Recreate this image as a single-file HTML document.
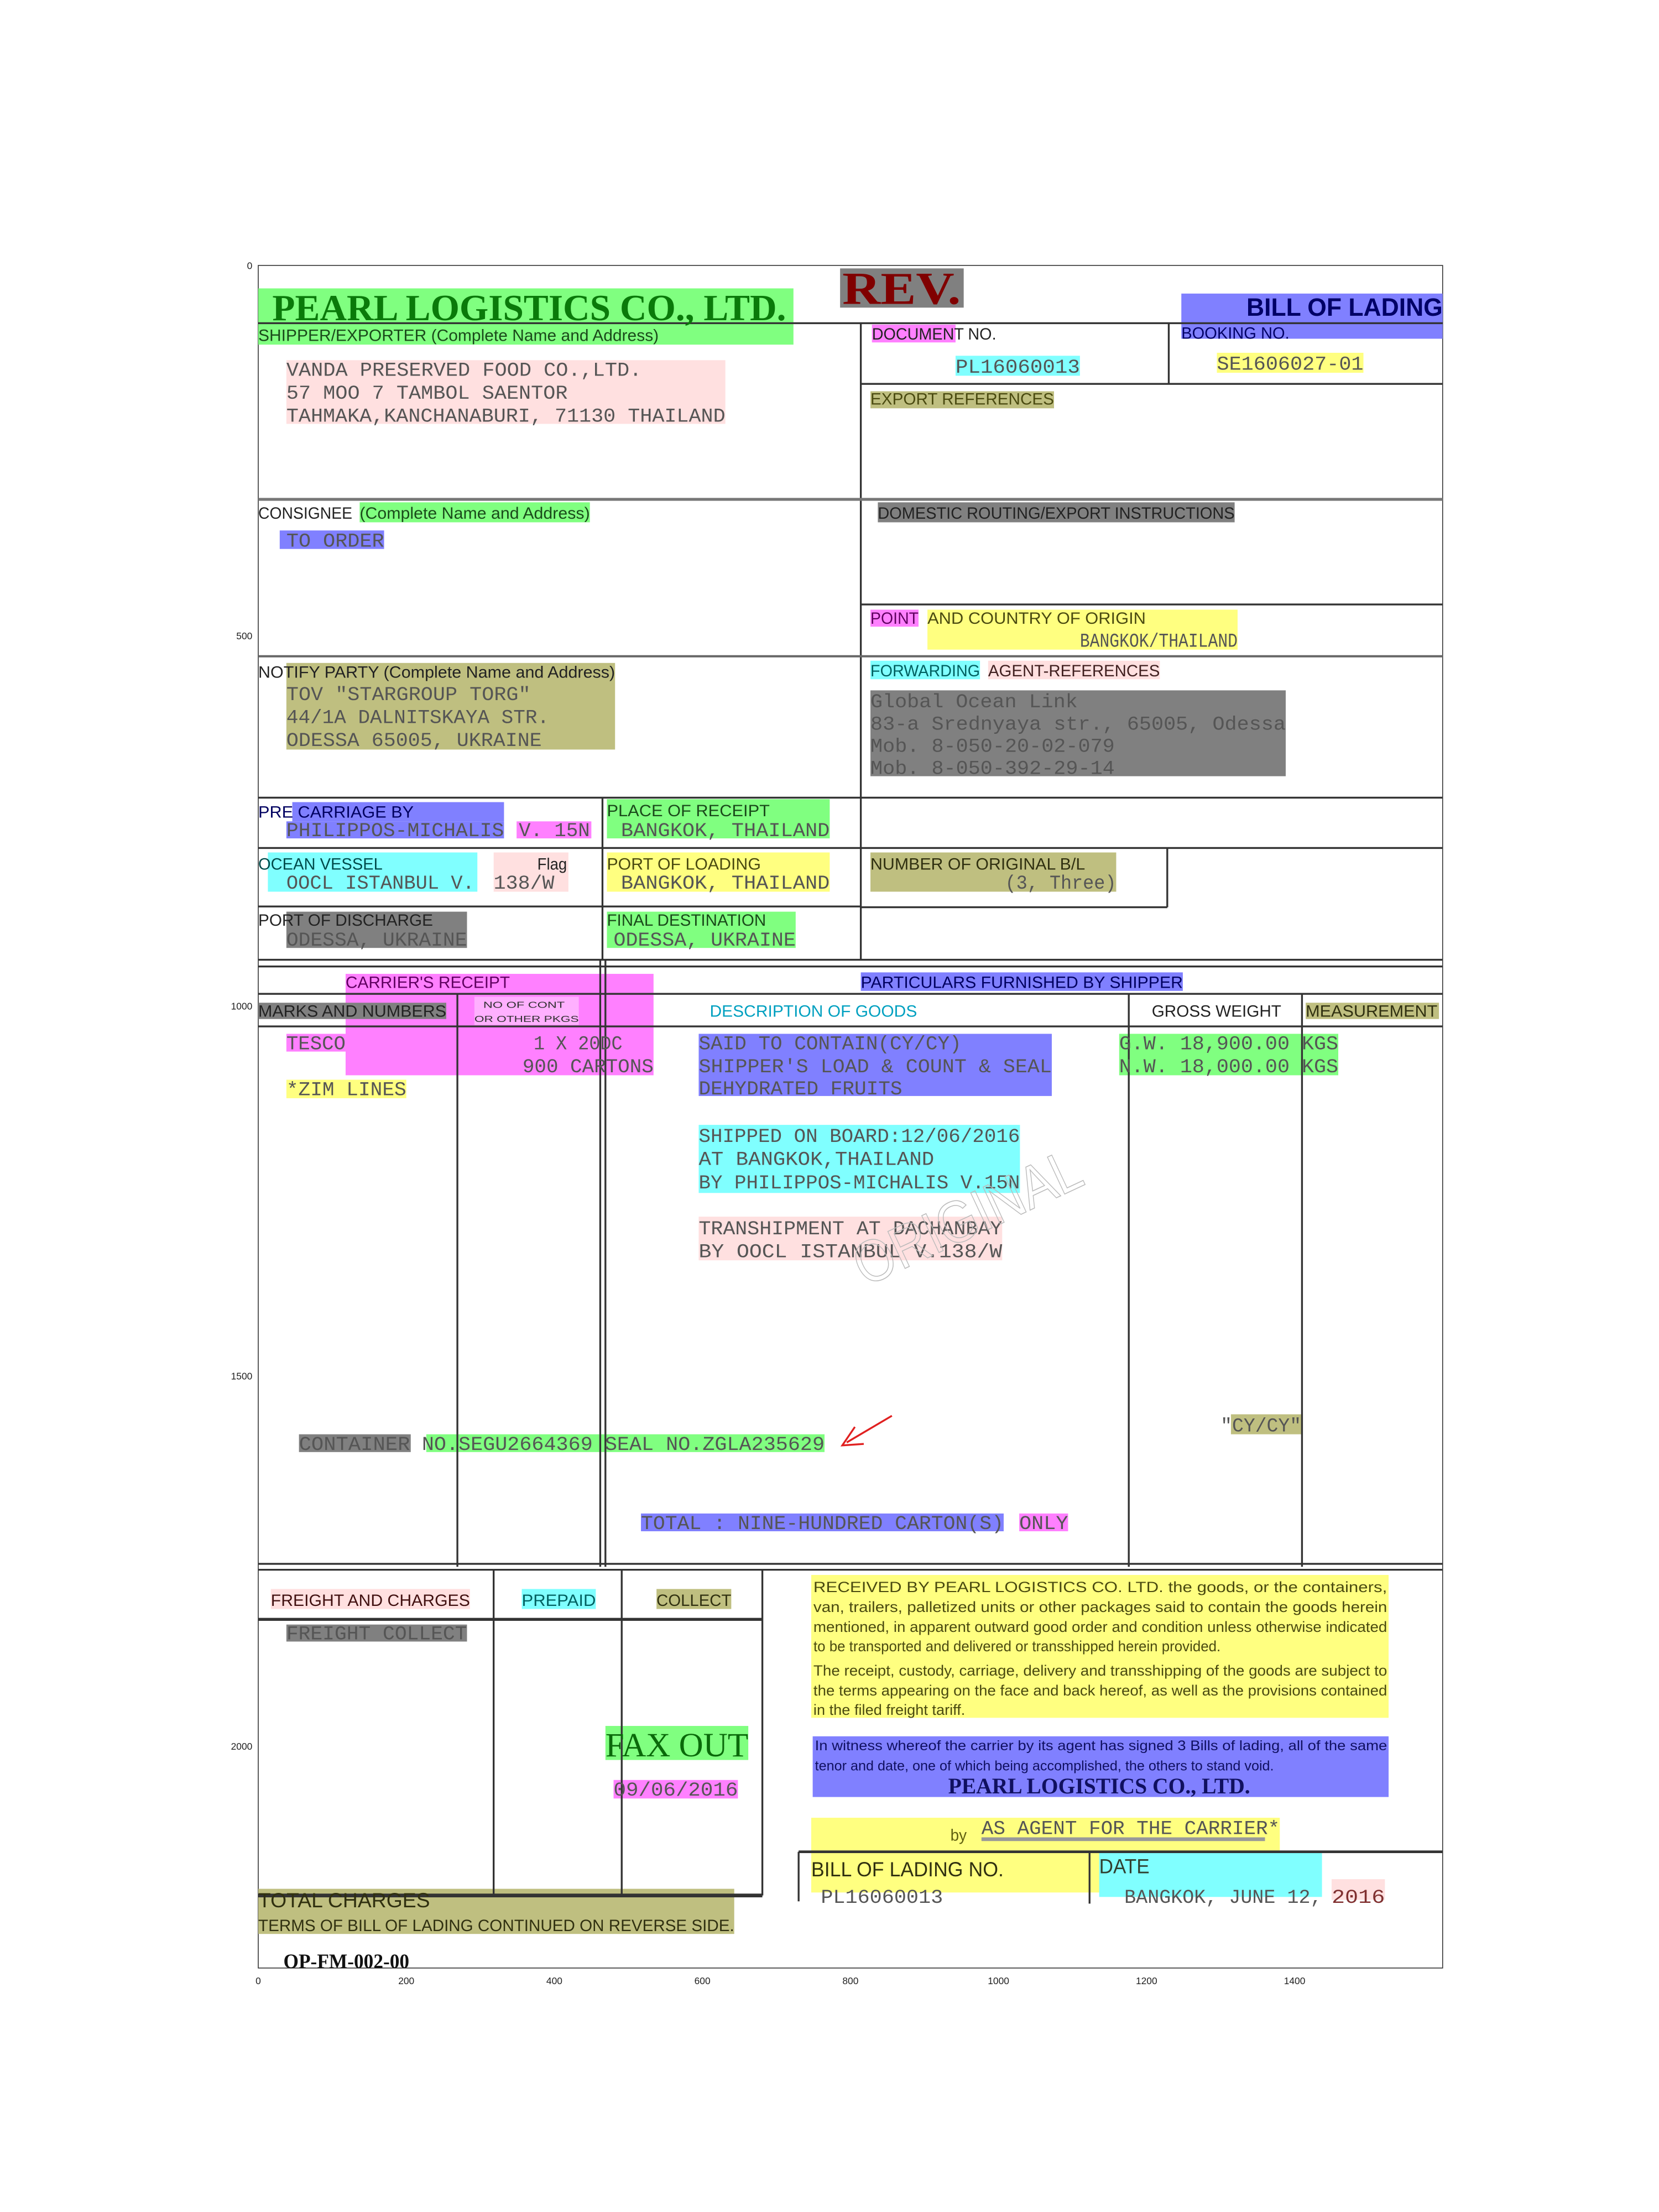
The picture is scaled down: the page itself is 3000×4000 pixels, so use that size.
<!DOCTYPE html>
<html><head><meta charset="utf-8"><style>
html,body{margin:0;padding:0;background:#fff;}
svg{display:block;}
.s{font-family:"Liberation Sans",sans-serif;}
.m{font-family:"Liberation Mono",monospace;}
.f{font-family:"Liberation Serif",serif;font-weight:bold;}
</style></head><body>
<svg width="3000" height="4000" viewBox="0 0 3000 4000" xmlns="http://www.w3.org/2000/svg">
<rect width="3000" height="4000" fill="#fff"/>
<g transform="translate(467,480) scale(1.3386)">
<rect x="0" y="0" width="1600" height="2300" fill="none" stroke="#333" stroke-width="1.2"/>
<g class="s" font-size="13" fill="#222" text-anchor="end">
<text x="-8" y="5">0</text><text x="-8" y="505">500</text><text x="-8" y="1005">1000</text><text x="-8" y="1505">1500</text><text x="-8" y="2005">2000</text>
</g>
<g class="s" font-size="13" fill="#222" text-anchor="middle">
<text x="0" y="2322">0</text><text x="200" y="2322">200</text><text x="400" y="2322">400</text><text x="600" y="2322">600</text><text x="800" y="2322">800</text><text x="1000" y="2322">1000</text><text x="1200" y="2322">1200</text><text x="1400" y="2322">1400</text>
</g>

<g>
<rect x="0" y="31" width="723" height="76" fill="#80ff80"/>
<rect x="786" y="4" width="167" height="53" fill="#808080"/>
<rect x="1247" y="38" width="353" height="61" fill="#8080ff"/>
<rect x="829" y="80" width="113" height="24" fill="#ff80ff"/>
<rect x="942" y="122" width="168" height="27" fill="#80ffff"/>
<rect x="1295" y="118" width="198" height="27" fill="#ffff80"/>
<rect x="827" y="170" width="248" height="23" fill="#bfbf80"/>
<rect x="38" y="128" width="593" height="86" fill="#ffe0e0"/>
<rect x="137" y="320" width="311" height="27" fill="#80ff80"/>
<rect x="29" y="358" width="141" height="25" fill="#8080ff"/>
<rect x="837" y="320" width="482" height="27" fill="#808080"/>
<rect x="827" y="465" width="65" height="23" fill="#ff80ff"/>
<rect x="904" y="465" width="419" height="54" fill="#ffff80"/>
<rect x="38" y="537" width="444" height="117" fill="#bfbf80"/>
<rect x="827" y="534" width="148" height="25" fill="#80ffff"/>
<rect x="986" y="534" width="232" height="25" fill="#ffe0e0"/>
<rect x="827" y="574" width="561" height="116" fill="#808080"/>
<rect x="46" y="725" width="286" height="26" fill="#8080ff"/>
<rect x="38" y="751" width="294" height="23" fill="#8080ff"/>
<rect x="349" y="751" width="101" height="23" fill="#ff80ff"/>
<rect x="471" y="721" width="301" height="53" fill="#80ff80"/>
<rect x="13" y="793" width="283" height="53" fill="#80ffff"/>
<rect x="318" y="793" width="101" height="53" fill="#ffe0e0"/>
<rect x="471" y="793" width="301" height="53" fill="#ffff80"/>
<rect x="827" y="793" width="332" height="53" fill="#bfbf80"/>
<rect x="38" y="873" width="244" height="49" fill="#808080"/>
<rect x="471" y="873" width="255" height="49" fill="#80ff80"/>
<rect x="814" y="955" width="435" height="25" fill="#8080ff"/>
<rect x="118" y="957" width="416" height="137" fill="#ff80ff"/>
<rect x="0" y="996" width="254" height="22" fill="#808080"/>
<rect x="292" y="988" width="141" height="38" fill="#ffb0ff"/>
<rect x="1415" y="996" width="180" height="22" fill="#bfbf80"/>
<rect x="38" y="1038" width="80" height="24" fill="#ff80ff"/>
<rect x="38" y="1100" width="162" height="25" fill="#ffff80"/>
<rect x="595" y="1038" width="477" height="84" fill="#8080ff"/>
<rect x="1163" y="1038" width="296" height="56" fill="#80ff80"/>
<rect x="595" y="1161" width="434" height="92" fill="#80ffff"/>
<rect x="595" y="1285" width="410" height="59" fill="#ffe0e0"/>
<rect x="55" y="1579" width="151" height="24" fill="#808080"/>
<rect x="227" y="1579" width="538" height="24" fill="#80ff80"/>
<rect x="1314" y="1552" width="95" height="27" fill="#bfbf80"/>
<rect x="517" y="1686" width="490" height="24" fill="#8080ff"/>
<rect x="1028" y="1686" width="66" height="24" fill="#ff80ff"/>
<rect x="17" y="1788" width="269" height="27" fill="#ffe0e0"/>
<rect x="356" y="1788" width="100" height="27" fill="#80ffff"/>
<rect x="538" y="1788" width="101" height="27" fill="#bfbf80"/>
<rect x="38" y="1836" width="244" height="23" fill="#808080"/>
<rect x="469" y="1973" width="193" height="46" fill="#80ff80"/>
<rect x="480" y="2046" width="168" height="25" fill="#ff80ff"/>
<rect x="0" y="2193" width="643" height="61" fill="#bfbf80"/>
<rect x="747" y="1769" width="780" height="193" fill="#ffff80"/>
<rect x="749" y="1987" width="778" height="82" fill="#8080ff"/>
<rect x="747" y="2097" width="633" height="101" fill="#ffff80"/>
<rect x="1136" y="2143" width="301" height="61" fill="#80ffff"/>
<rect x="1450" y="2180" width="72" height="28" fill="#ffe0e0"/>
</g>

<g stroke="#333" stroke-width="2.5" fill="none">
<line x1="0" y1="78" x2="1600" y2="78"/>
<line x1="814" y1="78" x2="814" y2="938"/>
<line x1="1230" y1="78" x2="1230" y2="160"/>
<line x1="814" y1="160" x2="1600" y2="160"/>
<line x1="0" y1="316" x2="1600" y2="316" stroke="#777" stroke-width="4"/>
<line x1="814" y1="458" x2="1600" y2="458"/>
<line x1="0" y1="528" x2="1600" y2="528" stroke="#666" stroke-width="3"/>
<line x1="0" y1="719" x2="1600" y2="719"/>
<line x1="465" y1="719" x2="465" y2="938"/>
<line x1="0" y1="787" x2="1600" y2="787"/>
<line x1="1228" y1="787" x2="1228" y2="867"/>
<line x1="814" y1="867" x2="1228" y2="867"/>
<line x1="0" y1="866" x2="814" y2="866"/>
<line x1="0" y1="938" x2="1600" y2="938"/>
<line x1="0" y1="947" x2="1600" y2="947"/>
<line x1="0" y1="984" x2="1600" y2="984"/>
<line x1="0" y1="1028" x2="1600" y2="1028"/>
<line x1="269" y1="984" x2="269" y2="1758"/>
<line x1="462" y1="938" x2="462" y2="1758"/>
<line x1="469" y1="938" x2="469" y2="1758"/>
<line x1="1176" y1="984" x2="1176" y2="1758"/>
<line x1="1410" y1="984" x2="1410" y2="1758"/>
<line x1="0" y1="1754" x2="1600" y2="1754"/>
<line x1="0" y1="1762" x2="1600" y2="1762"/>
<line x1="318" y1="1762" x2="318" y2="2202"/>
<line x1="491" y1="1762" x2="491" y2="2202"/>
<line x1="681" y1="1762" x2="681" y2="2202"/>
<line x1="0" y1="1829" x2="681" y2="1829" stroke-width="4"/>
<line x1="0" y1="2202" x2="681" y2="2202" stroke-width="5"/>
<line x1="730" y1="2143" x2="1600" y2="2143" stroke-width="3.5"/>
<line x1="730" y1="2143" x2="730" y2="2210"/>
<line x1="1123" y1="2143" x2="1123" y2="2213"/>
<line x1="977" y1="2126" x2="1360" y2="2126" stroke="#999" stroke-width="5"/>
<line x1="856" y1="1554" x2="795" y2="1590" stroke="#e02020" stroke-width="2.5"/>
<polyline points="806,1569 789,1594 818,1592" stroke="#e02020" stroke-width="2.5"/>
</g>

<text class="f" x="19" y="74" font-size="50" fill="#0a7a0a" textLength="694" lengthAdjust="spacingAndGlyphs">PEARL LOGISTICS CO., LTD.</text>
<text class="s" x="0" y="102" font-size="22" fill="#1a4a1a" textLength="541" lengthAdjust="spacingAndGlyphs">SHIPPER/EXPORTER (Complete Name and Address)</text>
<text class="f" x="789" y="52" font-size="62" fill="#800000" textLength="160" lengthAdjust="spacingAndGlyphs">REV.</text>
<text class="s" x="1335" y="68" font-size="34" font-weight="bold" fill="#000066" textLength="265" lengthAdjust="spacingAndGlyphs">BILL OF LADING</text>
<text class="s" x="1247" y="99" font-size="22" fill="#000066" textLength="146" lengthAdjust="spacingAndGlyphs">BOOKING NO.</text>
<text class="s" x="829" y="100" font-size="22" fill="#222" textLength="168" lengthAdjust="spacingAndGlyphs">DOCUMENT NO.</text>
<g class="m" font-size="26" fill="#555">
<text x="942" y="145" textLength="168" lengthAdjust="spacingAndGlyphs">PL16060013</text>
<text x="1295" y="141" textLength="198" lengthAdjust="spacingAndGlyphs">SE1606027-01</text>
<text x="38" y="149" textLength="480" lengthAdjust="spacingAndGlyphs">VANDA PRESERVED FOOD CO.,LTD.</text>
<text x="38" y="180" textLength="380" lengthAdjust="spacingAndGlyphs">57 MOO 7 TAMBOL SAENTOR</text>
<text x="38" y="211" textLength="593" lengthAdjust="spacingAndGlyphs">TAHMAKA,KANCHANABURI, 71130 THAILAND</text>
<text x="38" y="380" textLength="132" lengthAdjust="spacingAndGlyphs">TO ORDER</text>
<text x="1110" y="515" textLength="213" lengthAdjust="spacingAndGlyphs">BANGKOK/THAILAND</text>
<text x="38" y="587" textLength="330" lengthAdjust="spacingAndGlyphs">TOV "STARGROUP TORG"</text>
<text x="38" y="618" textLength="355" lengthAdjust="spacingAndGlyphs">44/1A DALNITSKAYA STR.</text>
<text x="38" y="649" textLength="345" lengthAdjust="spacingAndGlyphs">ODESSA 65005, UKRAINE</text>
<text x="827" y="597" textLength="280" lengthAdjust="spacingAndGlyphs">Global Ocean Link</text>
<text x="827" y="627" textLength="561" lengthAdjust="spacingAndGlyphs">83-a Srednyaya str., 65005, Odessa</text>
<text x="827" y="657" textLength="330" lengthAdjust="spacingAndGlyphs">Mob. 8-050-20-02-079</text>
<text x="827" y="687" textLength="330" lengthAdjust="spacingAndGlyphs">Mob. 8-050-392-29-14</text>
<text x="38" y="771" textLength="294" lengthAdjust="spacingAndGlyphs">PHILIPPOS-MICHALIS</text>
<text x="352" y="771" textLength="96" lengthAdjust="spacingAndGlyphs">V. 15N</text>
<text x="490" y="771" textLength="282" lengthAdjust="spacingAndGlyphs">BANGKOK, THAILAND</text>
<text x="38" y="842" textLength="254" lengthAdjust="spacingAndGlyphs">OOCL ISTANBUL V.</text>
<text x="318" y="842" textLength="82" lengthAdjust="spacingAndGlyphs">138/W</text>
<text x="490" y="842" textLength="282" lengthAdjust="spacingAndGlyphs">BANGKOK, THAILAND</text>
<text x="1009" y="842" textLength="150" lengthAdjust="spacingAndGlyphs">(3, Three)</text>
<text x="38" y="919" textLength="244" lengthAdjust="spacingAndGlyphs">ODESSA, UKRAINE</text>
<text x="480" y="919" textLength="246" lengthAdjust="spacingAndGlyphs">ODESSA, UKRAINE</text>
<text x="38" y="1059" textLength="80" lengthAdjust="spacingAndGlyphs">TESCO</text>
<text x="372" y="1059" textLength="120" lengthAdjust="spacingAndGlyphs">1 X 20DC</text>
<text x="357" y="1090" textLength="177" lengthAdjust="spacingAndGlyphs">900 CARTONS</text>
<text x="38" y="1121" textLength="162" lengthAdjust="spacingAndGlyphs">*ZIM LINES</text>
<text x="595" y="1059" textLength="355" lengthAdjust="spacingAndGlyphs">SAID TO CONTAIN(CY/CY)</text>
<text x="595" y="1090" textLength="477" lengthAdjust="spacingAndGlyphs">SHIPPER'S LOAD &amp; COUNT &amp; SEAL</text>
<text x="595" y="1120" textLength="275" lengthAdjust="spacingAndGlyphs">DEHYDRATED FRUITS</text>
<text x="1163" y="1059" textLength="296" lengthAdjust="spacingAndGlyphs">G.W. 18,900.00 KGS</text>
<text x="1163" y="1090" textLength="296" lengthAdjust="spacingAndGlyphs">N.W. 18,000.00 KGS</text>
<text x="595" y="1184" textLength="434" lengthAdjust="spacingAndGlyphs">SHIPPED ON BOARD:12/06/2016</text>
<text x="595" y="1215" textLength="318" lengthAdjust="spacingAndGlyphs">AT BANGKOK,THAILAND</text>
<text x="595" y="1247" textLength="434" lengthAdjust="spacingAndGlyphs">BY PHILIPPOS-MICHALIS V.15N</text>
<text x="595" y="1309" textLength="410" lengthAdjust="spacingAndGlyphs">TRANSHIPMENT AT DACHANBAY</text>
<text x="595" y="1340" textLength="410" lengthAdjust="spacingAndGlyphs">BY OOCL ISTANBUL V.138/W</text>
<text x="55" y="1600" textLength="150" lengthAdjust="spacingAndGlyphs">CONTAINER</text>
<text x="221" y="1600" textLength="544" lengthAdjust="spacingAndGlyphs">NO.SEGU2664369 SEAL NO.ZGLA235629</text>
<text x="1300" y="1575" textLength="109" lengthAdjust="spacingAndGlyphs">"CY/CY"</text>
<text x="517" y="1707" textLength="490" lengthAdjust="spacingAndGlyphs">TOTAL : NINE-HUNDRED CARTON(S)</text>
<text x="1028" y="1707" textLength="66" lengthAdjust="spacingAndGlyphs">ONLY</text>
<text x="38" y="1856" textLength="244" lengthAdjust="spacingAndGlyphs">FREIGHT COLLECT</text>
<text x="480" y="2067" textLength="168" lengthAdjust="spacingAndGlyphs">09/06/2016</text>
<text x="977" y="2119" textLength="403" lengthAdjust="spacingAndGlyphs">AS AGENT FOR THE CARRIER*</text>
<text x="760" y="2212" textLength="165" lengthAdjust="spacingAndGlyphs">PL16060013</text>
<text x="1170" y="2212" textLength="267" lengthAdjust="spacingAndGlyphs">BANGKOK, JUNE 12,</text>
<text x="1450" y="2212" textLength="72" lengthAdjust="spacingAndGlyphs" fill="#803030">2016</text>
</g>
<text x="820" y="1380" font-size="80" fill="none" stroke="#bbb" stroke-width="1.2" class="s" transform="rotate(-25 820 1380)" textLength="330" lengthAdjust="spacingAndGlyphs">ORIGINAL</text>

<g class="s" font-size="22" fill="#222">
<text x="0" y="342" textLength="127" lengthAdjust="spacingAndGlyphs">CONSIGNEE</text>
<text x="137" y="342" textLength="311" lengthAdjust="spacingAndGlyphs" fill="#1a4a1a">(Complete Name and Address)</text>
<text x="837" y="342" textLength="482" lengthAdjust="spacingAndGlyphs">DOMESTIC ROUTING/EXPORT INSTRUCTIONS</text>
<text x="827" y="188" textLength="248" lengthAdjust="spacingAndGlyphs" fill="#4a4a10">EXPORT REFERENCES</text>
<text x="827" y="484" textLength="65" lengthAdjust="spacingAndGlyphs" fill="#600060">POINT</text>
<text x="904" y="484" textLength="295" lengthAdjust="spacingAndGlyphs" fill="#4a4a10">AND COUNTRY OF ORIGIN</text>
<text x="0" y="557" textLength="482" lengthAdjust="spacingAndGlyphs">NOTIFY PARTY (Complete Name and Address)</text>
<text x="827" y="555" textLength="148" lengthAdjust="spacingAndGlyphs" fill="#006060">FORWARDING</text>
<text x="986" y="555" textLength="232" lengthAdjust="spacingAndGlyphs" fill="#402020">AGENT-REFERENCES</text>
<text x="0" y="746" textLength="210" lengthAdjust="spacingAndGlyphs" fill="#000060">PRE CARRIAGE BY</text>
<text x="471" y="744" textLength="220" lengthAdjust="spacingAndGlyphs" fill="#1a4a1a">PLACE OF RECEIPT</text>
<text x="0" y="816" textLength="168" lengthAdjust="spacingAndGlyphs" fill="#004a4a">OCEAN VESSEL</text>
<text x="377" y="816" textLength="40" lengthAdjust="spacingAndGlyphs">Flag</text>
<text x="471" y="816" textLength="208" lengthAdjust="spacingAndGlyphs" fill="#4a4a10">PORT OF LOADING</text>
<text x="827" y="816" textLength="290" lengthAdjust="spacingAndGlyphs" fill="#303010">NUMBER OF ORIGINAL B/L</text>
<text x="0" y="892" textLength="236" lengthAdjust="spacingAndGlyphs">PORT OF DISCHARGE</text>
<text x="471" y="892" textLength="215" lengthAdjust="spacingAndGlyphs" fill="#1a4a1a">FINAL DESTINATION</text>
<text x="118" y="976" textLength="222" lengthAdjust="spacingAndGlyphs" fill="#600060">CARRIER'S RECEIPT</text>
<text x="814" y="976" textLength="435" lengthAdjust="spacingAndGlyphs" fill="#000060">PARTICULARS FURNISHED BY SHIPPER</text>
<text x="0" y="1015" textLength="254" lengthAdjust="spacingAndGlyphs">MARKS AND NUMBERS</text>
<text x="610" y="1015" textLength="280" lengthAdjust="spacingAndGlyphs" fill="#00a0c0">DESCRIPTION OF GOODS</text>
<text x="1207" y="1015" textLength="175" lengthAdjust="spacingAndGlyphs">GROSS WEIGHT</text>
<text x="1415" y="1015" textLength="178" lengthAdjust="spacingAndGlyphs" fill="#303010">MEASUREMENT</text>
<text x="17" y="1811" textLength="269" lengthAdjust="spacingAndGlyphs" fill="#401010">FREIGHT AND CHARGES</text>
<text x="356" y="1811" textLength="100" lengthAdjust="spacingAndGlyphs" fill="#006060">PREPAID</text>
<text x="538" y="1811" textLength="101" lengthAdjust="spacingAndGlyphs" fill="#303010">COLLECT</text>
<text x="0" y="2218" font-size="28" textLength="232" lengthAdjust="spacingAndGlyphs" fill="#303010">TOTAL CHARGES</text>
<text x="0" y="2250" textLength="643" lengthAdjust="spacingAndGlyphs" fill="#303010">TERMS OF BILL OF LADING CONTINUED ON REVERSE SIDE.</text>
<text x="747" y="2176" font-size="28" textLength="260" lengthAdjust="spacingAndGlyphs" fill="#303010">BILL OF LADING NO.</text>
<text x="1136" y="2172" font-size="28" textLength="68" lengthAdjust="spacingAndGlyphs" fill="#304030">DATE</text>
<text x="935" y="2128" textLength="22" lengthAdjust="spacingAndGlyphs" fill="#606010">by</text>
</g>
<g class="s" font-size="12" fill="#303030">
<text x="304" y="1003" textLength="110" lengthAdjust="spacingAndGlyphs">NO OF CONT</text>
<text x="292" y="1022" textLength="141" lengthAdjust="spacingAndGlyphs">OR OTHER PKGS</text>
</g>
<g class="s" font-size="20" fill="#4a4a10">
<text x="750" y="1792" textLength="775" lengthAdjust="spacingAndGlyphs">RECEIVED BY PEARL LOGISTICS CO. LTD. the goods, or the containers,</text>
<text x="750" y="1819" textLength="775" lengthAdjust="spacingAndGlyphs">van, trailers, palletized units or other packages said to contain the goods herein</text>
<text x="750" y="1846" textLength="775" lengthAdjust="spacingAndGlyphs">mentioned, in apparent outward good order and condition unless otherwise indicated</text>
<text x="750" y="1872" textLength="550" lengthAdjust="spacingAndGlyphs">to be transported and delivered or transshipped herein provided.</text>
<text x="750" y="1905" textLength="775" lengthAdjust="spacingAndGlyphs">The receipt, custody, carriage, delivery and transshipping of the goods are subject to</text>
<text x="750" y="1932" textLength="775" lengthAdjust="spacingAndGlyphs">the terms appearing on the face and back hereof, as well as the provisions contained</text>
<text x="750" y="1958" textLength="205" lengthAdjust="spacingAndGlyphs">in the filed freight tariff.</text>
</g>
<g class="s" font-size="19" fill="#101060">
<text x="752" y="2006" textLength="773" lengthAdjust="spacingAndGlyphs">In witness whereof the carrier by its agent has signed 3 Bills of lading, all of the same</text>
<text x="752" y="2033" textLength="620" lengthAdjust="spacingAndGlyphs">tenor and date, one of which being accomplished, the others to stand void.</text>
</g>
<text class="f" x="932" y="2064" font-size="30" fill="#101060" textLength="408" lengthAdjust="spacingAndGlyphs">PEARL LOGISTICS CO., LTD.</text>
<text class="f" x="469" y="2014" font-size="46" fill="#0a6a0a" textLength="193" lengthAdjust="spacingAndGlyphs" style="font-weight:normal">FAX OUT</text>
<text class="f" x="34" y="2300" font-size="28" fill="#111" textLength="170" lengthAdjust="spacingAndGlyphs">OP-FM-002-00</text>
</g>
</svg>
</body></html>
